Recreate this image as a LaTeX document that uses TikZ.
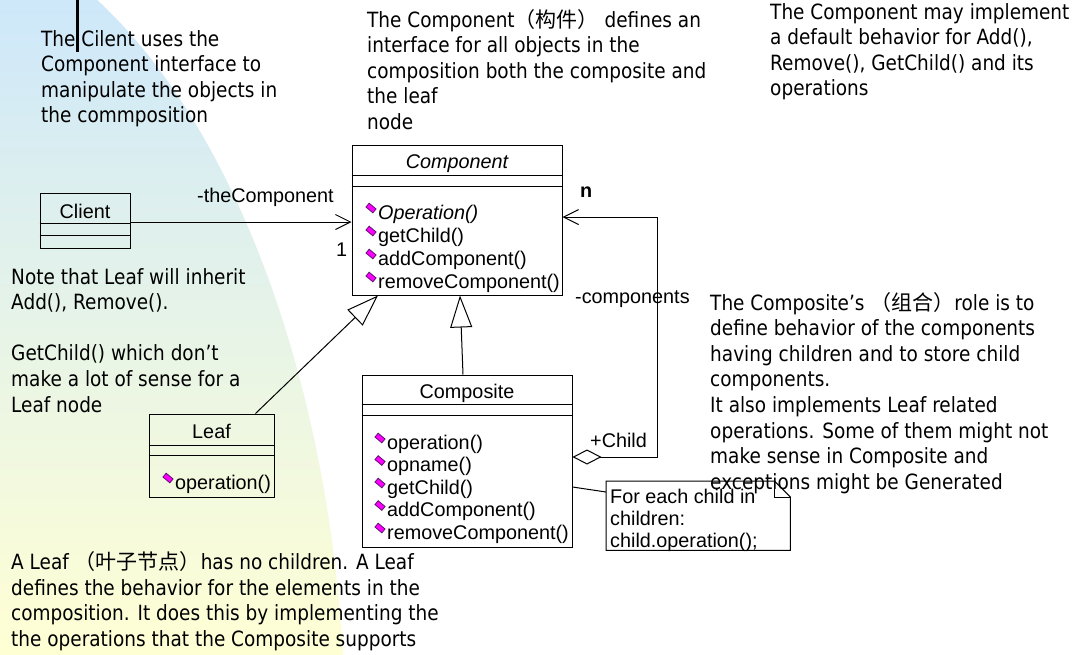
\documentclass[tikz,border=0pt]{standalone}
\usepackage{fontspec}
\setmainfont{Liberation Sans}
\newfontfamily\remarkfont{DejaVu Sans}[FakeStretch=0.88]
\newfontfamily\cjk{Noto Sans CJK SC}
\usetikzlibrary{
  arrows.meta
}
\definecolor{bgblue}{RGB}{206,232,250}
\definecolor{bgmid}{RGB}{232,245,238}
\definecolor{bgyellow}{RGB}{255,255,212}
\definecolor{iconpink}{RGB}{255,0,255}
\definecolor{iconedge}{RGB}{90,20,110}
\tikzset{
  uml box/.style={
    draw=black,
    line width=1pt,
    inner sep=0pt
  },
  uml text/.style={
    font=\fontsize{19.8}{22}\selectfont,
    inner sep=0pt
  },
  op icon/.style={
    draw=iconedge,
    fill=iconpink,
    line width=0.8pt,
    minimum width=9pt,
    minimum height=5pt,
    inner sep=0pt,
    rotate=-40
  },
  remark/.style={
    font=\remarkfont\fontsize{21}{25.6}\selectfont,
    align=left,
    inner sep=0pt,
    anchor=north west
  },
  assoc/.style={
    line width=1pt,
    -{Straight Barb[length=15pt,width=15pt]}
  },
  aggregate/.style={
    line width=1pt,
    {Diamond[open,length=29pt,width=15pt]}-{Straight Barb[length=15pt,width=15pt]}
  },
  generalize/.style={
    line width=1pt,
    -{Triangle[open,length=32pt,width=22pt]}
  },
  note box/.style={
    inner sep=0pt,
    minimum width=184pt,
    minimum height=69pt,
    anchor=north west
  }
}

\begin{document}
\begin{tikzpicture}[x=1pt,y=-1pt]

  % background
  \useasboundingbox (0,0) rectangle (1078,654);
  \fill[white] (0,0) rectangle (1078,654);
  \begin{scope}
    \clip (-100,750) ellipse [x radius=446, y radius=836];
    \shade[top color=bgblue, middle color=bgmid, bottom color=bgyellow]
      (0,0) rectangle (360,654);
  \end{scope}
  \draw[line width=3pt] (77.5,0) -- (77.5,52);

  % ---------- Component ----------
  \node[uml box, minimum width=210pt, minimum height=150pt] (Component) at (457,220) {};
  \draw[line width=1pt] (Component.west |- 0,175) -- (Component.east |- 0,175);
  \draw[line width=1pt] (Component.west |- 0,186) -- (Component.east |- 0,186);
  \node[uml text, anchor=base] (compName) at (457,168) {\itshape Component};
  \node[uml text, anchor=base west] (compOp1) at (378,219) {\itshape Operation()};
  \node[uml text, anchor=base west] (compOp2) at (378,242) {getChild()};
  \node[uml text, anchor=base west] (compOp3) at (378,265) {addComponent()};
  \node[uml text, anchor=base west] (compOp4) at (378,288) {removeComponent()};
  \node[op icon] (compIc1) at (371,208) {};
  \node[op icon] (compIc2) at (371,231) {};
  \node[op icon] (compIc3) at (371,254) {};
  \node[op icon] (compIc4) at (371,277) {};

  % ---------- Client ----------
  \node[uml box, minimum width=90pt, minimum height=55pt] (Client) at (85,220.5) {};
  \draw[line width=1pt] (Client.west |- 0,223) -- (Client.east |- 0,223);
  \draw[line width=1pt] (Client.west |- 0,235) -- (Client.east |- 0,235);
  \node[uml text, anchor=base] (clientName) at (85,218) {Client};

  % ---------- Leaf ----------
  \node[uml box, minimum width=125pt, minimum height=83pt] (Leaf) at (211.5,455.5) {};
  \draw[line width=1pt] (Leaf.west |- 0,445) -- (Leaf.east |- 0,445);
  \draw[line width=1pt] (Leaf.west |- 0,455) -- (Leaf.east |- 0,455);
  \node[uml text, anchor=base] (leafName) at (211.5,438) {Leaf};
  \node[uml text, anchor=base west] (leafOp1) at (175,489) {operation()};
  \node[op icon] (leafIc1) at (168,478) {};

  % ---------- Composite ----------
  \node[uml box, minimum width=210pt, minimum height=172pt] (Composite) at (467,461) {};
  \draw[line width=1pt] (Composite.west |- 0,404) -- (Composite.east |- 0,404);
  \draw[line width=1pt] (Composite.west |- 0,415) -- (Composite.east |- 0,415);
  \node[uml text, anchor=base] (compoName) at (467,398) {Composite};
  \node[uml text, anchor=base west] (compoOp1) at (387,449) {operation()};
  \node[uml text, anchor=base west] (compoOp2) at (387,471.5) {opname()};
  \node[uml text, anchor=base west] (compoOp3) at (387,494) {getChild()};
  \node[uml text, anchor=base west] (compoOp4) at (387,516.5) {addComponent()};
  \node[uml text, anchor=base west] (compoOp5) at (387,539) {removeComponent()};
  \node[op icon] (compoIc1) at (380,438) {};
  \node[op icon] (compoIc2) at (380,460.5) {};
  \node[op icon] (compoIc3) at (380,483) {};
  \node[op icon] (compoIc4) at (380,505.5) {};
  \node[op icon] (compoIc5) at (380,528) {};

  % ---------- note ----------
  \node[note box] (note) at (606,481) {};
  \draw[line width=1pt]
    (note.north west) -- ([xshift=-16pt]note.north east)
    -- ([yshift=-16pt]note.north east) -- (note.south east)
    -- (note.south west) -- cycle;
  \draw[line width=1pt]
    ([xshift=-16pt]note.north east) -- ([xshift=-16pt,yshift=-16pt]note.north east)
    -- ([yshift=-16pt]note.north east);
  \node[uml text, align=left, anchor=north west] (noteText) at (610,489)
    {For each child in\\children:\\child.operation();};

  % ---------- relations ----------
  \draw[assoc] (Client.east |- 0,222) -- (Component.west |- 0,222);
  \node[uml text, anchor=base west] (roleClient) at (197,202) {-theComponent};
  \node[uml text, anchor=base west] (multOne) at (336,256) {1};

  \coordinate (aggCorner) at (657,457);
  \draw[aggregate] ([yshift=4pt]Composite.east) -- (aggCorner)
    |- ([yshift=3pt]Component.east);
  \node[uml text, anchor=base west] (multN) at (580,197) {\bfseries n};
  \node[uml text, anchor=base west] (roleComps) at (575,303) {-components};
  \node[uml text, anchor=base west] (roleChild) at (590,447) {+Child};

  \draw[generalize] ([xshift=44pt]Leaf.north) -- ([xshift=-79pt]Component.south);
  \draw[generalize] ([xshift=-4pt]Composite.north) -- ([xshift=3pt]Component.south);

  \draw[line width=1pt] ([yshift=-26pt]Composite.east) -- ([yshift=-11pt]note.north west);

  % ---------- remarks ----------
  \node[remark] (rmClient) at (41,30)
    {The Cilent uses the\\Component interface to\\manipulate the objects in\\the commposition};
  \node[remark] (rmComponent) at (367,9)
    {The Component{\cjk （构件）} defines an\\interface for all objects in the\\composition both the composite and\\the leaf\\node};
  \node[remark] (rmDefault) at (770,3)
    {The Component may implement\\a default behavior for Add(),\\Remove(), GetChild() and its\\operations};
  \node[remark] (rmInherit) at (11,268)
    {Note that Leaf will inherit\\Add(), Remove().\\[25.6pt]GetChild() which don’t\\make a lot of sense for a\\Leaf node};
  \node[remark] (rmComposite) at (710,292)
    {The Composite’s {\cjk （组合）}role is to\\define behavior of the components\\having children and to store child\\components.\\It also implements Leaf related\\operations. Some of them might not\\make sense in Composite and\\exceptions might be Generated};
  \node[remark] (rmLeaf) at (11,551.5)
    {A Leaf {\cjk （叶子节点）}has no children. A Leaf\\defines the behavior for the elements in the\\composition. It does this by implementing the\\the operations that the Composite supports};

\end{tikzpicture}
\end{document}
